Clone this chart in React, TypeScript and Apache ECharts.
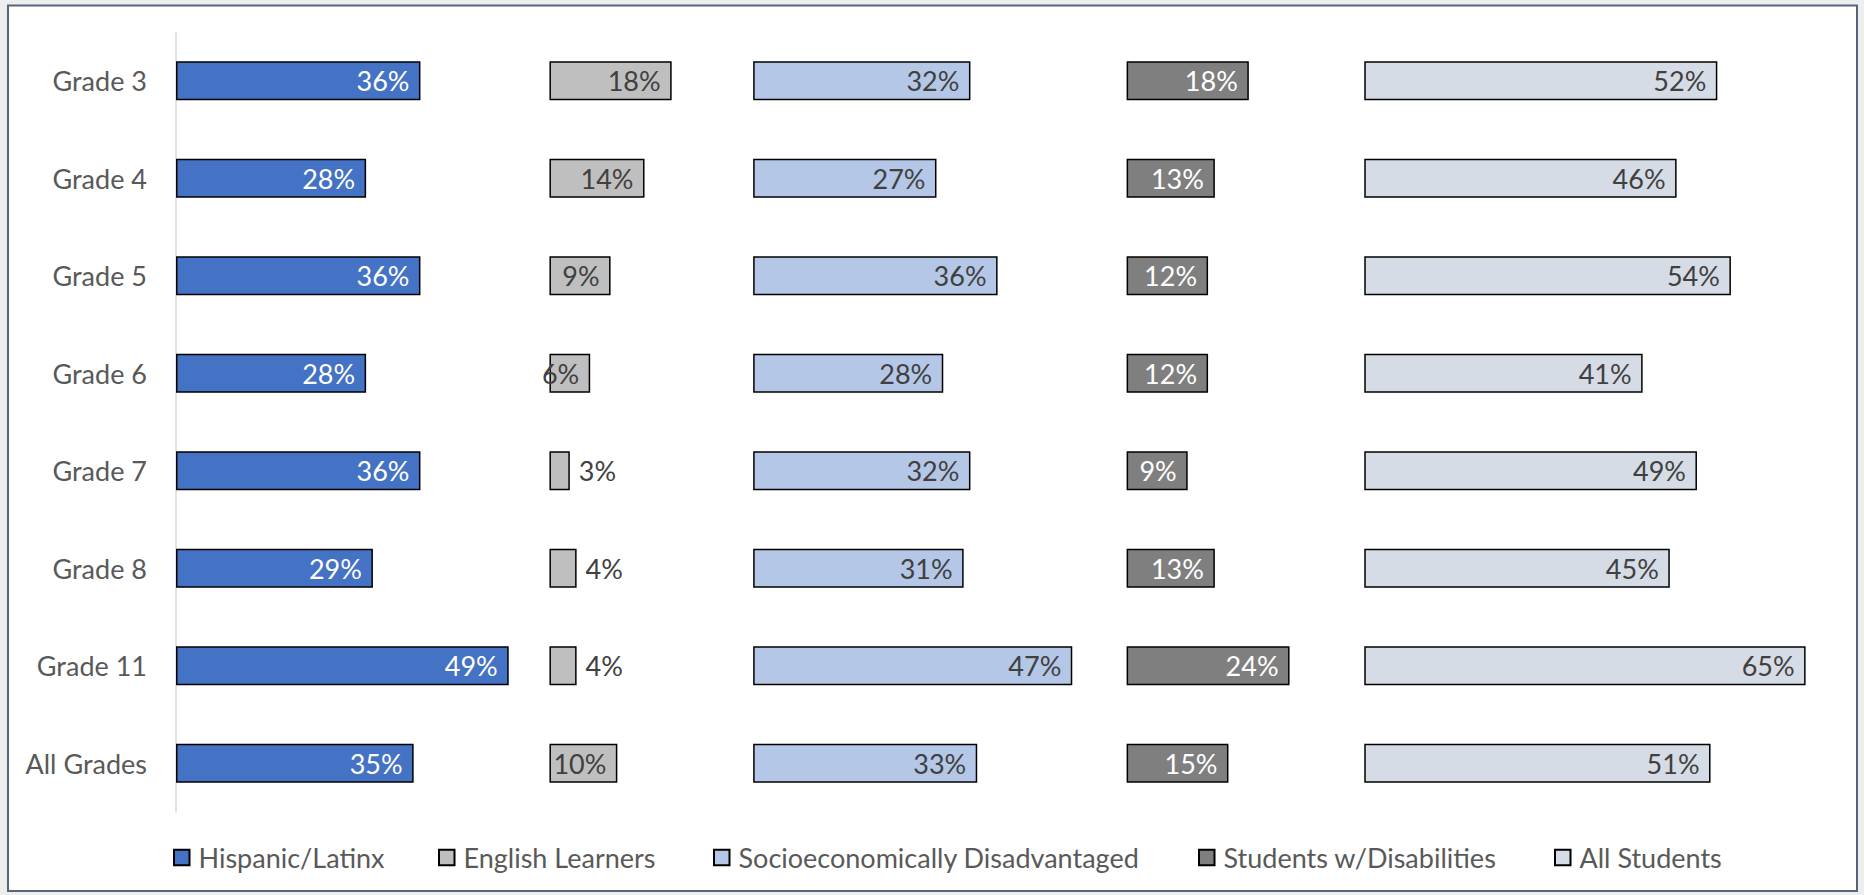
import React, { useEffect, useRef } from "react";
import * as echarts from "echarts";

const categories = ["Grade 3", "Grade 4", "Grade 5", "Grade 6", "Grade 7", "Grade 8", "Grade 11", "All Grades"];
const hispanic = [36, 28, 36, 28, 36, 29, 49, 35];
const englishLearners = [18, 14, 9, 6, 3, 4, 4, 10];
const socioDisadv = [32, 27, 36, 28, 32, 31, 47, 33];
const disabilities = [18, 13, 12, 12, 9, 13, 24, 15];
const allStudents = [52, 46, 54, 41, 49, 45, 65, 51];
const seriesNames = [
  "Hispanic/Latinx",
  "English Learners",
  "Socioeconomically Disadvantaged",
  "Students w/Disabilities",
  "All Students",
];

const FONT = "Lato";
const FS = 27;
const PX = 6.79;
const AXIS_LEFT = 176;
const groupStart = [0, 55, 85, 140, 175];
const groupSpan = [55, 30, 55, 35, 65];
const fills = ["#4472C4", "#BFBFBF", "#B4C7E7", "#7F7F7F", "#D6DCE5"];
const labelColors = ["#ffffff", "#404040", "#404040", "#ffffff", "#404040"];
const legendLeft = [168, 433, 708, 1193, 1549];

export default function App() {
  const ref = useRef<HTMLDivElement>(null);
  useEffect(() => {
    if (!ref.current) return;
    const chart = echarts.init(ref.current, undefined, { renderer: "svg" });
    const values = [hispanic, englishLearners, socioDisadv, disabilities, allStudents];
    const grids = groupStart.map((g, i) => ({
      left: AXIS_LEFT + g * PX,
      width: groupSpan[i] * PX,
      top: 32,
      height: 780,
    }));
    const xAxis = groupSpan.map((w, i) => ({
      type: "value",
      gridIndex: i,
      min: 0,
      max: w,
      show: false,
    }));
    const yAxis = groupSpan.map((_, i) => ({
      type: "category",
      gridIndex: i,
      data: categories,
      inverse: true,
      show: i === 0,
      axisLine: { show: i === 0, lineStyle: { color: "#D9D9D9", width: 1.5 } },
      axisTick: { show: false },
      axisLabel: { show: i === 0, color: "#595959", fontSize: FS, fontFamily: FONT, margin: 29 },
      splitLine: { show: false },
    }));
    const series = values.map((vals, i) => ({
      name: seriesNames[i],
      type: "bar",
      xAxisIndex: i,
      yAxisIndex: i,
      barWidth: 39,
      itemStyle: { color: fills[i], borderColor: "#000000", borderWidth: 1.5 },
      label: {
        show: true,
        position: "insideRight",
        distance: 11,
        formatter: "{c}%",
        color: labelColors[i],
        fontSize: FS,
        fontFamily: FONT,
      },
      data: vals.map((v) =>
        i === 1 && v < 5
          ? { value: v, label: { position: "right", distance: 9, color: "#404040" } }
          : v
      ),
    }));
    const legend = seriesNames.map((n, i) => ({
      data: [n],
      left: legendLeft[i],
      top: 839,
      icon: "rect",
      itemWidth: 15.5,
      itemHeight: 15.5,
      itemGap: 0,
      textStyle: { color: "#595959", fontSize: FS, fontFamily: FONT, padding: [0, 0, 0, 4] },
    }));
    chart.setOption({
      animation: false,
      backgroundColor: "#EEEEEE",
      graphic: [
        {
          type: "rect",
          shape: { x: 8, y: 5.5, width: 1849, height: 885.5 },
          style: { fill: "#ffffff", stroke: "#56667A", lineWidth: 2 },
          z: -10,
        },
      ],
      grid: grids,
      xAxis,
      yAxis,
      legend,
      series,
    });
    return () => chart.dispose();
  }, []);
  return (
    <div
      ref={ref}
      style={{ position: "fixed", left: 0, top: 0, width: 1864, height: 895 }}
    />
  );
}
